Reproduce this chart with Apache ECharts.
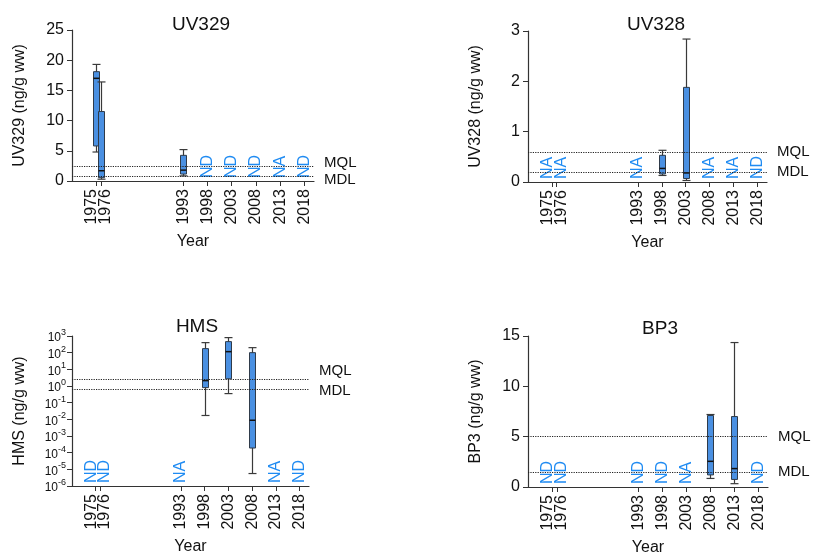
<!DOCTYPE html>
<html>
<head>
<meta charset="utf-8">
<script src="https://cdn.jsdelivr.net/npm/echarts@6/dist/echarts.min.js"></script>
<style>
html, body { margin: 0; padding: 0; background: #fff; }
#main { width: 813px; height: 552px; }
</style>
</head>
<body>
<div id="main"></div>
<script>
// x ticks (years)
var years = [1975, 1976, 1993, 1998, 2003, 2008, 2013, 2018];

// box data: [year, min, Q1, median, Q3, max]
var uv329Box = [[1975, 4.8, 5.8, 17.0, 18.1, 19.3], [1976, 0.3, 0.55, 1.7, 11.5, 16.4], [1993, 0.85, 1.15, 1.8, 4.25, 5.2]];
var uv328Box = [[1998, 0.13, 0.16, 0.27, 0.53, 0.63], [2003, 0.03, 0.07, 0.18, 1.88, 2.84]];
var hmsBox = [[1998, 0.017, 0.8, 2.1, 175, 400], [2003, 0.35, 2.7, 115, 460, 800], [2008, 5.6e-6, 1.9e-4, 0.0088, 100, 200]];
var bp3Box = [[2008, 0.85, 1.2, 2.55, 7.1, 7.2], [2013, 0.33, 0.75, 1.83, 7.0, 14.35]];

// ND / NA flags
var uv329FlagYears = [1998, 2003, 2008, 2013, 2018];
var uv329FlagText = ['ND', 'ND', 'ND', 'NA', 'ND'];
var uv328FlagYears = [1975, 1976, 1993, 2008, 2013, 2018];
var uv328FlagText = ['NA', 'NA', 'NA', 'NA', 'NA', 'ND'];
var hmsFlagYears = [1975, 1976, 1993, 2013, 2018];
var hmsFlagText = ['ND', 'ND', 'NA', 'NA', 'ND'];
var bp3FlagYears = [1975, 1976, 1993, 1998, 2003, 2018];
var bp3FlagText = ['ND', 'ND', 'ND', 'ND', 'NA', 'ND'];

// [MQL, MDL]
var uv329Limits = [2.5, 0.8];
var uv328Limits = [0.6, 0.2];
var hmsLimits = [2.5, 0.68];
var bp3Limits = [5, 1.5];

var hmsTicks = [1e-6, 1e-5, 1e-4, 1e-3, 1e-2, 1e-1, 1, 10, 100, 1000];

var FONT = 'Liberation Sans, Arial, Helvetica, sans-serif';
var BLUE = '#4a90e2';
var FLAG = '#1f8bf2';
var INK = '#111';

var chart = echarts.init(document.getElementById('main'), null, {renderer: 'canvas'});

function renderBox(params, api) {
    var x = api.value(0);
    var pMin = api.coord([x, api.value(1)]);
    var pQ1 = api.coord([x, api.value(2)]);
    var pMed = api.coord([x, api.value(3)]);
    var pQ3 = api.coord([x, api.value(4)]);
    var pMax = api.coord([x, api.value(5)]);
    var cx = Math.round(pMed[0]) + 0.5;
    var bw = 6, cw = 8;
    var wStyle = {stroke: '#3a3a3a', lineWidth: 1.2};
    return {
        type: 'group',
        children: [
            {type: 'line', shape: {x1: cx, y1: pMax[1], x2: cx, y2: pMin[1]}, style: wStyle},
            {type: 'line', shape: {x1: cx - cw / 2, y1: pMax[1], x2: cx + cw / 2, y2: pMax[1]}, style: wStyle},
            {type: 'line', shape: {x1: cx - cw / 2, y1: pMin[1], x2: cx + cw / 2, y2: pMin[1]}, style: wStyle},
            {type: 'rect', shape: {x: cx - bw / 2, y: pQ3[1], width: bw, height: pQ1[1] - pQ3[1]},
                style: {fill: BLUE, stroke: '#2f3b4a', lineWidth: 1}},
            {type: 'line', shape: {x1: cx - bw / 2, y1: pMed[1], x2: cx + bw / 2, y2: pMed[1]},
                style: {stroke: '#111', lineWidth: 1.5}}
        ]
    };
}

// 1975 / 1976 flags sit one year apart, so push them aside a little
function flagShift(year) {
    if (year === 1975) return -4.5;
    if (year === 1976) return 4.5;
    return 0;
}

function flagRenderer(texts) {
    return function (params, api) {
        var yr = api.value(0);
        var p = api.coord([yr, api.value(1)]);
        return {
            type: 'text',
            x: p[0] + flagShift(yr),
            y: p[1] - 3,
            rotation: Math.PI / 2,
            style: {
                text: texts[params.dataIndex],
                textAlign: 'left',
                textVerticalAlign: 'middle',
                fill: FLAG,
                font: '16px ' + FONT
            }
        };
    };
}

function limitLines(lim, offQ, offD) {
    return {
        symbol: ['none', 'none'],
        silent: true,
        animation: false,
        lineStyle: {type: 'dotted', color: '#222', width: 1.2},
        label: {position: 'end', distance: 10, color: INK, fontSize: 15, fontFamily: FONT},
        data: [
            {yAxis: lim[0], label: {formatter: 'MQL', offset: [0, offQ]}},
            {yAxis: lim[1], label: {formatter: 'MDL', offset: [0, offD]}}
        ]
    };
}

var yearRich = {
    l: {fontSize: 16, color: INK, fontFamily: FONT, padding: [0, 0, 9, 0]},
    r: {fontSize: 16, color: INK, fontFamily: FONT, padding: [9, 0, 0, 0]}
};

function xAxisFor(i) {
    return {
        type: 'value', gridIndex: i, min: 1970, max: 2020, position: 'bottom',
        name: 'Year', nameLocation: 'middle', nameGap: 53,
        nameTextStyle: {fontSize: 16, color: INK, fontFamily: FONT},
        axisLine: {lineStyle: {color: '#333', width: 1.2}},
        axisTick: {length: 5, lineStyle: {color: '#333'}, customValues: years},
        axisLabel: {
            rotate: 90, fontSize: 16, color: INK, fontFamily: FONT, margin: 8,
            customValues: years.filter(function (y) { return y !== 1976; }),
            hideOverlap: false,
            formatter: function (v) {
                return v === 1975 ? '{l|1975}' : String(v);
            },
            rich: yearRich
        },
        splitLine: {show: false}
    };
}

// second bottom axis in each grid, only to carry the 1976 label next to 1975
function xAxis1976(i) {
    return {
        type: 'value', gridIndex: i, min: 1970, max: 2020, position: 'bottom',
        axisLine: {show: false},
        axisTick: {show: false},
        axisLabel: {
            rotate: 90, fontSize: 16, color: INK, fontFamily: FONT, margin: 8,
            customValues: [1976],
            formatter: function (v) { return '{r|' + v + '}'; },
            rich: yearRich
        },
        splitLine: {show: false}
    };
}

function yAxisFor(i, name, min, max, interval) {
    return {
        type: 'value', gridIndex: i, min: min, max: max, interval: interval,
        name: name, nameLocation: 'middle', nameGap: 44,
        nameTextStyle: {fontSize: 16, color: INK, fontFamily: FONT},
        axisLine: {show: true, lineStyle: {color: '#333', width: 1.2}},
        axisTick: {show: true, length: 5, lineStyle: {color: '#333'}},
        axisLabel: {fontSize: 16, color: INK, fontFamily: FONT, margin: 8},
        splitLine: {show: false}
    };
}

var hmsY = {
    type: 'log', logBase: 10, gridIndex: 2, min: 1e-6, max: 1e3,
    name: 'HMS (ng/g ww)', nameLocation: 'middle', nameGap: 44,
    nameTextStyle: {fontSize: 16, color: INK, fontFamily: FONT},
    axisLine: {show: true, lineStyle: {color: '#333', width: 1.2}},
    axisTick: {show: true, length: 5, lineStyle: {color: '#333'}, customValues: hmsTicks},
    axisLabel: {
        margin: 6, customValues: hmsTicks, hideOverlap: false, showMinLabel: true, showMaxLabel: true,
        formatter: function (v) {
            var e = Math.round(Math.log(v) / Math.LN10);
            return '{b|10}{s|' + e + '}';
        },
        rich: {
            b: {fontSize: 12, lineHeight: 16, verticalAlign: 'bottom', color: INK, fontFamily: FONT},
            s: {fontSize: 9, lineHeight: 12, verticalAlign: 'top', color: INK, fontFamily: FONT}
        }
    },
    splitLine: {show: false}
};

function flagData(ys, yv) {
    return ys.map(function (y) { return [y, yv]; });
}

var titleStyle = {fontSize: 19, fontWeight: 'normal', color: INK, fontFamily: FONT};

chart.setOption({
    animation: false,
    title: [
        {text: 'UV329', left: 196, top: 10, textAlign: 'center', textStyle: titleStyle},
        {text: 'UV328', left: 651, top: 10, textAlign: 'center', textStyle: titleStyle},
        {text: 'HMS', left: 192, top: 312, textAlign: 'center', textStyle: titleStyle},
        {text: 'BP3', left: 655, top: 314, textAlign: 'center', textStyle: titleStyle}
    ],
    grid: [
        {left: 72, top: 30, width: 242, height: 151, outerBoundsMode: 'none'},
        {left: 528, top: 31, width: 239, height: 151, outerBoundsMode: 'none'},
        {left: 72, top: 336, width: 237, height: 150, outerBoundsMode: 'none'},
        {left: 528, top: 336, width: 240, height: 151, outerBoundsMode: 'none'}
    ],
    xAxis: [xAxisFor(0), xAxisFor(1), xAxisFor(2), xAxisFor(3),
        xAxis1976(0), xAxis1976(1), xAxis1976(2), xAxis1976(3)],
    yAxis: [
        yAxisFor(0, 'UV329 (ng/g ww)', 0, 25, 5),
        yAxisFor(1, 'UV328 (ng/g ww)', 0, 3, 1),
        hmsY,
        yAxisFor(3, 'BP3 (ng/g ww)', 0, 15, 5)
    ],
    series: [
        {type: 'custom', xAxisIndex: 0, yAxisIndex: 0, data: uv329Box, renderItem: renderBox,
            encode: {x: 0, y: [1, 2, 3, 4, 5]}, markLine: limitLines(uv329Limits, -3, 4), z: 3},
        {type: 'custom', xAxisIndex: 0, yAxisIndex: 0, data: flagData(uv329FlagYears, 0),
            renderItem: flagRenderer(uv329FlagText), encode: {x: 0, y: 1}, z: 4},

        {type: 'custom', xAxisIndex: 1, yAxisIndex: 1, data: uv328Box, renderItem: renderBox,
            encode: {x: 0, y: [1, 2, 3, 4, 5]}, markLine: limitLines(uv328Limits, 0, 0), z: 3},
        {type: 'custom', xAxisIndex: 1, yAxisIndex: 1, data: flagData(uv328FlagYears, 0),
            renderItem: flagRenderer(uv328FlagText), encode: {x: 0, y: 1}, z: 4},

        {type: 'custom', xAxisIndex: 2, yAxisIndex: 2, data: hmsBox, renderItem: renderBox,
            encode: {x: 0, y: [1, 2, 3, 4, 5]}, markLine: limitLines(hmsLimits, -9, 2), z: 3},
        {type: 'custom', xAxisIndex: 2, yAxisIndex: 2, data: flagData(hmsFlagYears, 1e-6),
            renderItem: flagRenderer(hmsFlagText), encode: {x: 0, y: 1}, z: 4},

        {type: 'custom', xAxisIndex: 3, yAxisIndex: 3, data: bp3Box, renderItem: renderBox,
            encode: {x: 0, y: [1, 2, 3, 4, 5]}, markLine: limitLines(bp3Limits, 0, 0), z: 3},
        {type: 'custom', xAxisIndex: 3, yAxisIndex: 3, data: flagData(bp3FlagYears, 0),
            renderItem: flagRenderer(bp3FlagText), encode: {x: 0, y: 1}, z: 4}
    ]
});
</script>
</body>
</html>
